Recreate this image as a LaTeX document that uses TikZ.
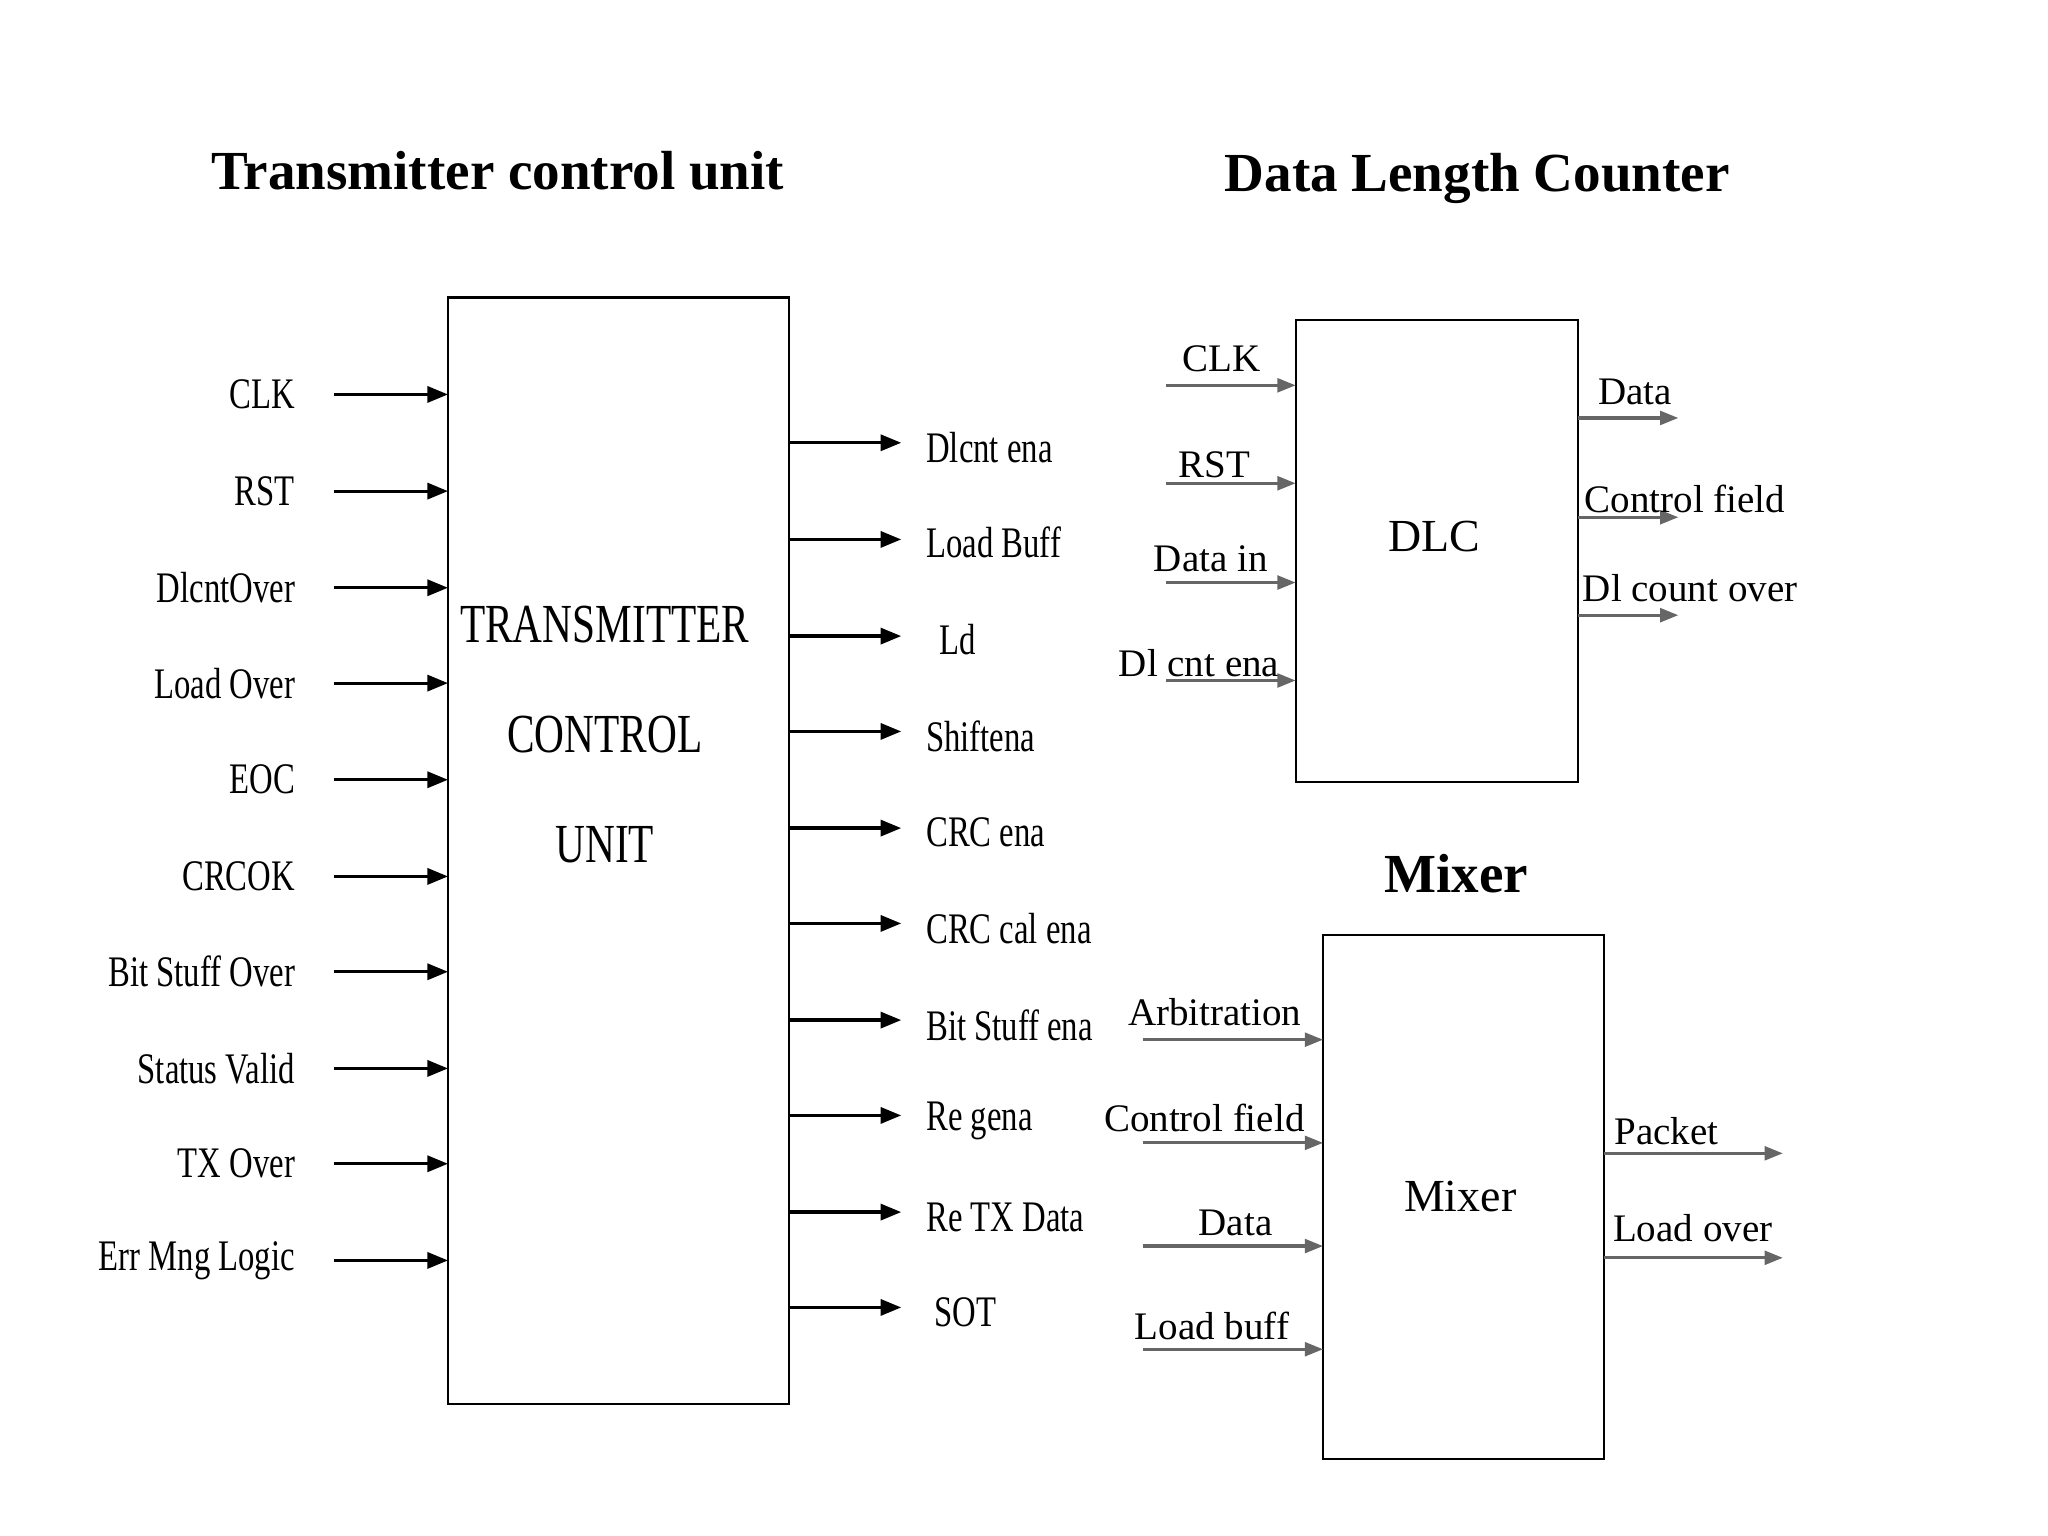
\documentclass[tikz,border=0pt]{standalone}
\usepackage{fontspec}
\setmainfont{Liberation Serif}
\usetikzlibrary{arrows.meta}
\begin{document}
\begin{tikzpicture}[x=0.02cm,y=-0.02cm,
  box/.style={draw,line width=1.2pt},
  sig/.style={-{Triangle[length=9pt,width=7pt]},line width=1.4pt},
  gsig/.style={-{Triangle[length=8pt,width=6pt]},line width=1.4pt,draw=black!60,fill=black},
  lab/.style={font=\fontsize{19}{20}\selectfont\addfontfeature{FakeStretch=0.75}},
  glab/.style={font=\fontsize{17}{18}\selectfont},
  ttl/.style={font=\fontsize{24}{26}\selectfont\bfseries}]
\useasboundingbox (0,0) rectangle (1568,1176);
\node[ttl] (t1) at (381,131) {Transmitter control unit};
\node[ttl] (t2) at (1131,137) {Data Length Counter};
\node[ttl] (t3) at (1115,669) {Mixer};
% TCU
\draw[box] (343,228) rectangle (604,1075);
\node[draw=none] (tcu) at (473,650) {};
\node[lab,font=\fontsize{24}{26}\selectfont\addfontfeature{FakeStretch=0.75}] (tx1) at (463,478) {TRANSMITTER};
\node[lab,font=\fontsize{24}{26}\selectfont\addfontfeature{FakeStretch=0.75}] (tx2) at (463,562) {CONTROL};
\node[lab,font=\fontsize{24}{26}\selectfont\addfontfeature{FakeStretch=0.75}] (tx3) at (463,647) {UNIT};
\foreach \y/\t [count=\i] in {302/CLK,376/RST,450/DlcntOver,523/Load Over,597/EOC,671/CRCOK,744/Bit Stuff Over,818/Status Valid,891/TX Over,965/Err Mng Logic}{
  \coordinate (ia\i) at (256,\y); \coordinate (ib\i) at (343,\y);
  \draw[sig] (ia\i) -- (ib\i);
  \node[lab,anchor=east] (il\i) at (232,\y) {\t};
}
\foreach \y/\t [count=\i] in {339/Dlcnt ena,413/Load Buff,487/Ld,560/Shiftena,634/CRC ena,707/CRC cal ena,781/Bit Stuff ena,854/Re gena,928/Re TX Data,1001/SOT}{
  \coordinate (oa\i) at (604,\y); \coordinate (ob\i) at (690,\y);
  \draw[sig] (oa\i) -- (ob\i);
}
\node[lab,anchor=west] at (703,343) {Dlcnt ena};
\node[lab,anchor=west] at (703,415) {Load Buff};
\node[lab] at (733,490) {Ld};
\node[lab,anchor=west] at (703,564) {Shiftena};
\node[lab,anchor=west] at (703,637) {CRC ena};
\node[lab,anchor=west] at (703,711) {CRC cal ena};
\node[lab,anchor=west] at (703,785) {Bit Stuff ena};
\node[lab,anchor=west] at (703,858) {Re gena};
\node[lab,anchor=west] at (703,932) {Re TX Data};
\node[lab] at (739,1005) {SOT};
% DLC
\draw[box,line width=0.9pt] (992,245) rectangle (1208,599);
\node[glab,font=\fontsize{20}{22}\selectfont] (dlc) at (1098,411) {DLC};
\foreach \y [count=\i] in {295,370,446,521}{
  \coordinate (da\i) at (893,\y); \coordinate (db\i) at (992,\y);
  \draw[gsig] (da\i) -- (db\i);}
\node[glab] at (935,275) {CLK};
\node[glab] at (930,356) {RST};
\node[glab] at (927,428) {Data in};
\node[glab] at (918,508) {Dl cnt ena};
\foreach \y [count=\i] in {320,396,471}{
  \coordinate (ea\i) at (1208,\y); \coordinate (eb\i) at (1285,\y);
  \draw[gsig] (ea\i) -- (eb\i);}
\node[glab] at (1252,300) {Data};
\node[glab] at (1290,382) {Control field};
\node[glab] at (1294,450) {Dl count over};
% Mixer
\draw[box,line width=0.9pt] (1013,716) rectangle (1228,1117);
\node[glab,font=\fontsize{20}{22}\selectfont] (mx) at (1118,916) {Mixer};
\foreach \y [count=\i] in {796,875,954,1033}{
  \coordinate (ma\i) at (875,\y); \coordinate (mb\i) at (1013,\y);
  \draw[gsig] (ma\i) -- (mb\i);}
\node[glab] at (930,775) {Arbitration};
\node[glab] at (922,856) {Control field};
\node[glab] at (946,936) {Data};
\node[glab] at (928,1015) {Load buff};
\foreach \y [count=\i] in {883,963}{
  \coordinate (na\i) at (1228,\y); \coordinate (nb\i) at (1365,\y);
  \draw[gsig] (na\i) -- (nb\i);}
\node[glab] at (1276,866) {Packet};
\node[glab] at (1296,940) {Load over};
\end{tikzpicture}
\end{document}
